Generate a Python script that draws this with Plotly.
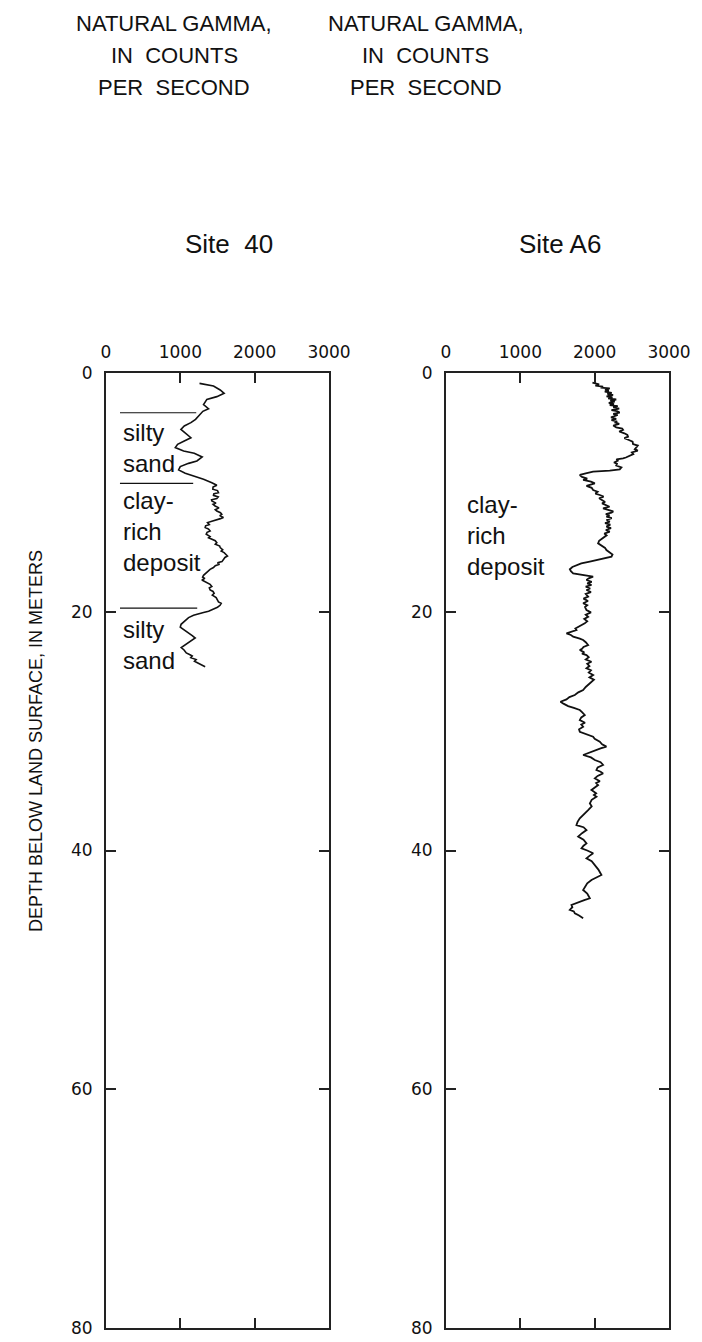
import plotly.graph_objects as go

# Natural gamma logs: depth below land surface (m) and counts per second
site40_depth = [0.87, 1.09, 1.42, 1.70, 1.98, 2.21, 2.65, 2.99, 3.21, 3.55, 3.88, 4.16, 4.44, 4.72,
                5.14, 5.42, 5.69, 5.97, 6.25, 6.53, 6.73, 7.03, 7.37, 7.57, 7.84, 8.12, 8.40, 8.63,
                8.91, 9.19, 9.30, 9.41, 9.55, 9.74, 9.85, 10.02, 10.12, 10.25, 10.38, 10.52, 10.62,
                10.72, 10.90, 11.00, 11.14, 11.30, 11.45, 11.56, 11.70, 11.84, 11.95, 12.11, 12.20,
                12.31, 12.42, 12.53, 12.70, 12.80, 12.95, 13.08, 13.23, 13.35, 13.51, 13.70, 13.80,
                13.93, 14.05, 14.21, 14.35, 14.50, 14.63, 14.80, 14.92, 15.05, 15.20, 15.33, 15.45,
                15.60, 15.80, 15.90, 16.02, 16.15, 16.30, 16.45, 16.55, 16.67, 16.80, 16.95, 17.10,
                17.20, 17.34, 17.45, 17.56, 17.70, 17.89, 18.00, 18.17, 18.30, 18.45, 18.60, 18.82,
                19.00, 19.18, 19.30, 19.46, 19.62, 19.79, 19.95, 20.07, 20.20, 20.30, 20.49, 20.85,
                21.05, 21.30, 21.55, 21.80, 22.00, 22.20, 22.40, 22.60, 22.80, 23.00, 23.20, 23.45,
                23.60, 23.70, 23.85, 24.00, 24.15, 24.40, 24.60]
site40_gamma = [1258, 1446, 1536, 1589, 1491, 1357, 1312, 1379, 1303, 1258, 1205, 1142, 1053, 1008,
                1089, 1142, 1053, 963, 932, 1044, 1187, 1294, 1223, 1111, 999, 977, 1066, 1187,
                1312, 1424, 1470, 1491, 1440, 1437, 1500, 1513, 1450, 1446, 1510, 1491, 1420,
                1424, 1480, 1440, 1468, 1520, 1470, 1491, 1540, 1558, 1530, 1580, 1540,
                1491, 1420, 1366, 1390, 1340, 1334, 1380, 1401, 1360, 1348, 1400, 1380,
                1424, 1470, 1491, 1470, 1530, 1536, 1570, 1550, 1589, 1610, 1634, 1600,
                1580, 1560, 1500, 1527, 1470, 1446, 1400, 1380, 1357, 1330, 1312, 1300,
                1330, 1290, 1330, 1357, 1400, 1424, 1390, 1401, 1440, 1455, 1430, 1482,
                1500, 1513, 1550, 1535, 1500, 1446, 1380, 1312, 1240, 1178, 1111, 1039,
                1010, 999, 1060, 1106, 1160, 1200, 1150, 1110, 1050, 1012, 1050, 1080,
                1130, 1160, 1140, 1213, 1190, 1267, 1334]

siteA6_depth = [0.81, 0.95, 1.05, 1.14, 1.22, 1.29, 1.40, 1.48, 1.56, 1.66, 1.75, 1.84, 1.95, 2.05,
                2.12, 2.22, 2.32, 2.40, 2.50, 2.60, 2.68, 2.78, 2.88, 2.98, 3.10, 3.20, 3.32, 3.42,
                3.52, 3.60, 3.72, 3.84, 3.94, 4.05, 4.16, 4.27, 4.40, 4.55, 4.66, 4.77, 4.90, 5.05,
                5.18, 5.33, 5.45, 5.61, 5.75, 5.95, 6.08, 6.23, 6.38, 6.50, 6.65, 6.80, 6.95, 7.08,
                7.15, 7.23, 7.35, 7.50, 7.60, 7.75, 7.90, 8.07, 8.18, 8.27, 8.40, 8.54, 8.70, 8.85,
                8.96, 9.10, 9.24, 9.35, 9.46, 9.62, 9.80, 9.95, 10.10, 10.22, 10.35, 10.50, 10.64,
                10.80, 10.92, 11.06, 11.20, 11.34, 11.50, 11.60, 11.70, 11.82, 11.92, 12.03, 12.15,
                12.30, 12.45, 12.58, 12.70, 12.87, 13.00, 13.15, 13.29, 13.45, 13.60, 13.85, 14.05,
                14.27, 14.45, 14.65, 14.83, 15.00, 15.20, 15.39, 15.50, 15.66, 15.80, 15.95, 16.08,
                16.25, 16.44, 16.60, 16.78, 16.92, 17.06, 17.20, 17.34, 17.50, 17.62, 17.76, 17.90,
                18.05, 18.18, 18.35, 18.50, 18.73, 18.90, 19.10, 19.29, 19.45, 19.60, 19.86, 20.05,
                20.25, 20.42, 20.60, 20.80, 20.97, 21.20, 21.40, 21.53, 21.70, 21.81, 21.95, 22.09,
                22.25, 22.37, 22.55, 22.79, 22.95, 23.10, 23.21, 23.40, 23.50, 23.63, 23.80, 24.00,
                24.19, 24.35, 24.55, 24.74, 24.90, 25.10, 25.30, 25.50, 25.70, 25.86, 26.10, 26.30,
                26.56, 26.75, 26.98, 27.15, 27.34, 27.54, 27.70, 27.90, 28.05, 28.23, 28.40, 28.65,
                28.85, 29.07, 29.30, 29.45, 29.63, 29.85, 30.05, 30.25, 30.47, 30.65, 30.89, 31.10,
                31.30, 31.45, 31.58, 31.80, 32.00, 32.20, 32.42, 32.60, 32.84, 33.05, 33.26, 33.40,
                33.54, 33.75, 33.96, 34.20, 34.35, 34.52, 34.75, 34.93, 35.20, 35.35, 35.49, 35.75,
                36.05, 36.30, 36.61, 36.80, 37.03, 37.30, 37.60, 37.87, 38.05, 38.29, 38.55, 38.84,
                39.10, 39.40, 39.60, 39.82, 40.00, 40.23, 40.45, 40.65, 40.90, 41.21, 41.60, 42.05,
                42.25, 42.47, 42.75, 43.03, 43.31, 43.60, 44.00, 44.15, 44.28, 44.56, 44.75, 44.98,
                45.10, 45.26, 45.45, 45.68]
siteA6_gamma = [1970, 2060, 2010, 2113, 2080, 2203, 2140, 2190, 2136, 2230, 2170, 2248, 2160, 2240,
                2181, 2290, 2210, 2270, 2190, 2260, 2203, 2310, 2250, 2330, 2226, 2300, 2337, 2250,
                2310, 2270, 2220, 2290, 2226, 2300, 2280, 2330, 2250, 2290, 2370, 2382, 2330, 2400,
                2440, 2449, 2400, 2460, 2510, 2516, 2580, 2561, 2540, 2580, 2500, 2520, 2472, 2420,
                2382, 2293, 2310, 2260, 2300, 2290, 2360, 2337, 2203, 1979, 1880, 1800, 1830, 1900,
                1845, 1950, 2002, 1930, 1890, 1960, 1979, 2040, 2010, 2069, 2120, 2060, 2091,
                2140, 2100, 2158, 2200, 2113, 2180, 2250, 2226, 2150, 2200, 2158, 2230,
                2160, 2203, 2140, 2210, 2158, 2220, 2150, 2203, 2130, 2160, 2113, 2060,
                2046, 2100, 2140, 2158, 2200, 2240, 2226, 2150, 2069, 1934, 1820, 1755,
                1700, 1666, 1680, 1711, 1845, 1979, 1920, 1890, 1960, 1900, 1957, 1880,
                1940, 1890, 1950, 1880, 1912, 1850, 1910, 1845, 1900, 1870, 1890, 1950,
                1880, 1912, 1860, 1900, 1867, 1800, 1740, 1755, 1680, 1621, 1680, 1711,
                1800, 1845, 1880, 1912, 1850, 1830, 1800, 1860, 1830, 1890, 1920, 1880,
                1957, 1900, 1930, 1890, 1950, 1920, 1979, 1930, 1990, 1957, 1920, 1880,
                1845, 1780, 1733, 1660, 1621, 1540, 1580, 1643, 1720, 1800, 1830, 1867,
                1820, 1800, 1870, 1820, 1845, 1790, 1800, 1900, 1979, 2000, 2069, 2100,
                2158, 2080, 2024, 1920, 1845, 1950, 2002, 2080, 2113, 2040, 2024, 2080,
                2113, 2040, 2002, 2070, 2020, 2046, 1990, 1957, 2020, 1990, 2024, 1960,
                1935, 1960, 1912, 1880, 1845, 1800, 1770, 1755, 1850, 1890, 1830, 1778,
                1850, 1890, 1850, 1823, 1900, 1980, 1930, 1890, 1960, 2002, 2050, 2091,
                2020, 1957, 1900, 1868, 1845, 1900, 1935, 1860, 1800, 1688, 1700, 1666,
                1720, 1733, 1790, 1845]

# Lithologic unit boundaries at Site 40 (depth, m) and the gamma extent of each marker line
site40_boundaries = [3.33, 9.24, 19.69]
site40_boundary_ends = [1214, 1173, 1227]
boundary_start = 188

x_ticks = [0, 1000, 2000, 3000]
y_ticks = [0, 20, 40, 60, 80]

title_lines = ["NATURAL GAMMA,", "IN\u00a0 COUNTS", "PER\u00a0 SECOND"]
site_names = ["Site\u00a0 40", "Site A6"]
y_title = "DEPTH BELOW LAND SURFACE, IN METERS"

INK = "#111111"
FRAME = "#222222"
SANS = "Liberation Sans, Arial, Helvetica, sans-serif"
TICKFONT = dict(family="DejaVu Sans, Verdana, sans-serif", size=17, color=INK)

W, H = 702, 1342


def px_x(v):
    return v / W


def px_y(v):
    return 1 - v / H


fig = go.Figure()

fig.add_trace(go.Scatter(x=site40_gamma, y=site40_depth, mode="lines",
                         line=dict(color=INK, width=1.6), xaxis="x", yaxis="y",
                         hoverinfo="skip", showlegend=False))
fig.add_trace(go.Scatter(x=siteA6_gamma, y=siteA6_depth, mode="lines",
                         line=dict(color=INK, width=1.8), xaxis="x2", yaxis="y2",
                         hoverinfo="skip", showlegend=False))

common_x = dict(range=[0, 3000], tickvals=x_ticks, side="top", ticks="inside", ticklen=10,
                tickwidth=2, tickcolor=FRAME, showline=True, linewidth=2, linecolor=FRAME,
                mirror="ticks", showgrid=False, zeroline=False, tickfont=TICKFONT,
                ticklabelstandoff=6, automargin=False, fixedrange=True)
common_y = dict(range=[80, 0], tickvals=y_ticks, ticks="inside", ticklen=10, tickwidth=2,
                tickcolor=FRAME, showline=True, linewidth=2, linecolor=FRAME, mirror="ticks",
                showgrid=False, zeroline=False, tickfont=TICKFONT, ticklabelstandoff=8,
                automargin=False, fixedrange=True)

fig.update_layout(
    template="none",
    width=W, height=H,
    margin=dict(l=0, r=0, t=0, b=0, pad=0, autoexpand=False),
    paper_bgcolor="white", plot_bgcolor="white",
    xaxis=dict(domain=[px_x(106), px_x(329)], anchor="y", **common_x),
    yaxis=dict(domain=[px_y(1328), px_y(373)], anchor="x", **common_y),
    xaxis2=dict(domain=[px_x(446), px_x(669)], anchor="y2", **common_x),
    yaxis2=dict(domain=[px_y(1328), px_y(373)], anchor="x2", **common_y),
)

# Unit boundary lines at Site 40
for d, xe in zip(site40_boundaries, site40_boundary_ends):
    fig.add_shape(type="line", xref="x", yref="y", x0=boundary_start, x1=xe, y0=d, y1=d,
                  line=dict(color=INK, width=1.2))

lith_font = dict(family=SANS, size=24, color=INK)
site40_units = [("silty<br>sand", 6.28), ("clay-<br>rich<br>deposit", 13.24), ("silty<br>sand", 22.79)]
for txt, d in site40_units:
    fig.add_annotation(x=208, y=d, xref="x", yref="y", text=txt, showarrow=False,
                       xanchor="left", yanchor="middle", align="left", font=lith_font)
fig.add_annotation(x=255, y=13.65, xref="x2", yref="y2", text="clay-<br>rich<br>deposit",
                   showarrow=False, xanchor="left", yanchor="middle", align="left", font=lith_font)

# Column headings, one line at a time for the wider line spacing
for xc in [174, 426]:
    for i, line in enumerate(title_lines):
        fig.add_annotation(x=px_x(xc), y=px_y(24 + 32 * i), xref="paper", yref="paper",
                           text=line, showarrow=False, xanchor="center", yanchor="middle",
                           font=dict(family=SANS, size=22, color=INK))
for xc, name in zip([229, 560], site_names):
    fig.add_annotation(x=px_x(xc), y=px_y(244), xref="paper", yref="paper", text=name,
                       showarrow=False, xanchor="center", yanchor="middle",
                       font=dict(family=SANS, size=26, color=INK))

fig.add_annotation(x=px_x(36), y=px_y(741), xref="paper", yref="paper", text=y_title,
                   textangle=-90, showarrow=False, xanchor="center", yanchor="middle",
                   font=dict(family=SANS, size=18, color=INK))

fig.write_html("out.html")
